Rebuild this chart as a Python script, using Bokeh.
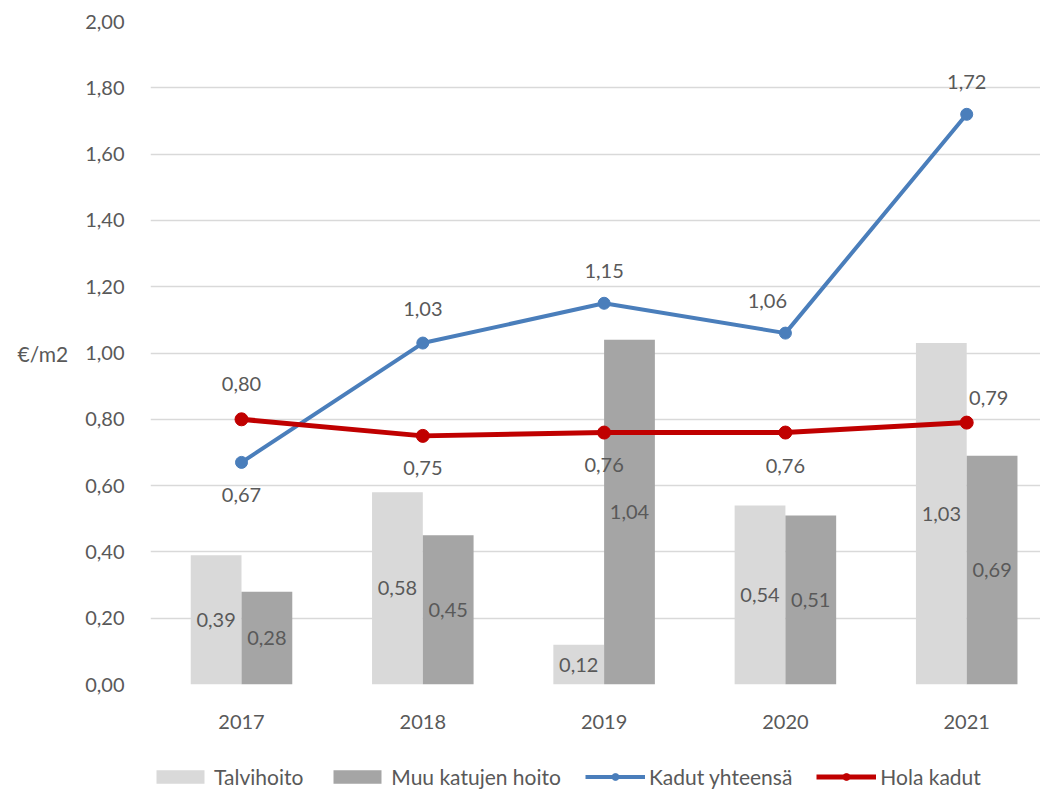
from bokeh.plotting import figure
from bokeh.layouts import column
from bokeh.models import ColumnDataSource, Legend, LegendItem, FixedTicker, Range1d, LabelSet
from bokeh.core.properties import value
from bokeh.embed import file_html
from bokeh.resources import INLINE

years = ["2017", "2018", "2019", "2020", "2021"]
talvihoito = [0.39, 0.58, 0.12, 0.54, 1.03]
muu_hoito = [0.28, 0.45, 1.04, 0.51, 0.69]
kadut_yhteensa = [0.67, 1.03, 1.15, 1.06, 1.72]
hola_kadut = [0.80, 0.75, 0.76, 0.76, 0.79]
y_ticks = [0.0, 0.2, 0.4, 0.6, 0.8, 1.0, 1.2, 1.4, 1.6, 1.8, 2.0]
y_tick_labels = ["0,00", "0,20", "0,40", "0,60", "0,80", "1,00", "1,20", "1,40", "1,60", "1,80", "2,00"]
series_names = ["Talvihoito", "Muu katujen hoito", "Kadut yhteensä", "Hola kadut"]
y_label = "€/m2"

FONT = "Lato"
TXT = "#595959"
C_LIGHT = "#d9d9d9"
C_DARK = "#a5a5a5"
C_BLUE = "#4a7ebb"
C_RED = "#c00000"

def fmt(v):
    return f"{v:.2f}".replace(".", ",")

idx = list(range(len(years)))
bw = 0.28

src = ColumnDataSource(dict(
    x=idx,
    xl=[i - bw / 2 for i in idx],
    xd=[i + bw / 2 for i in idx],
    talvi=talvihoito, talvi_mid=[v / 2 for v in talvihoito], talvi_t=[fmt(v) for v in talvihoito],
    muu=muu_hoito, muu_mid=[v / 2 for v in muu_hoito], muu_t=[fmt(v) for v in muu_hoito],
    blue=kadut_yhteensa, blue_t=[fmt(v) for v in kadut_yhteensa],
    red=hola_kadut, red_t=[fmt(v) for v in hola_kadut],
    # label offsets (styling, screen px; positive = up)
    blue_dx=[0, 0, 0, -18, 0], blue_dy=[-33, 34, 32, 32, 32],
    red_dx=[0, 0, 0, 0, 22], red_dy=[35, -32, -32, -33, 25],
))

p = figure(width=1040, height=737, output_backend="svg", toolbar_location=None,
           x_range=Range1d(-0.502, 4.407), y_range=Range1d(0, 2.0),
           min_border_left=150, min_border_right=0, min_border_top=21, min_border_bottom=53)
p.outline_line_color = None
p.background_fill_color = "white"
p.border_fill_color = "white"

def draw_series(fig, marker_size=12):
    r1 = fig.vbar(x="xl", top="talvi", width=bw, source=src, fill_color=C_LIGHT, line_color=None)
    r2 = fig.vbar(x="xd", top="muu", width=bw, source=src, fill_color=C_DARK, line_color=None)
    r3l = fig.line("x", "blue", source=src, line_color=C_BLUE, line_width=4)
    r3m = fig.scatter("x", "blue", source=src, size=marker_size, fill_color=C_BLUE, line_color=C_BLUE)
    r4l = fig.line("x", "red", source=src, line_color=C_RED, line_width=5)
    r4m = fig.scatter("x", "red", source=src, size=marker_size + 1, fill_color=C_RED, line_color=C_RED)
    return r1, r2, r3l, r3m, r4l, r4m

draw_series(p)

common = dict(text_font=value(FONT), text_font_size="20px", text_color=TXT,
              text_align="center", text_baseline="middle")
p.add_layout(LabelSet(x="xl", y="talvi_mid", text="talvi_t", source=src, **common))
p.add_layout(LabelSet(x="xd", y="muu_mid", text="muu_t", source=src, **common))
p.add_layout(LabelSet(x="x", y="blue", text="blue_t", x_offset="blue_dx", y_offset="blue_dy", source=src, **common))
p.add_layout(LabelSet(x="x", y="red", text="red_t", x_offset="red_dx", y_offset="red_dy", source=src, **common))

# axes
p.xaxis.ticker = FixedTicker(ticks=idx)
p.xaxis.major_label_overrides = {i: y for i, y in zip(idx, years)}
p.xaxis.axis_line_color = None
p.xaxis.major_tick_line_color = None
p.xaxis.minor_tick_line_color = None
p.xaxis.major_label_standoff = 24
p.xaxis.major_label_text_font = FONT
p.xaxis.major_label_text_font_size = "20px"
p.xaxis.major_label_text_color = TXT

p.yaxis.ticker = FixedTicker(ticks=y_ticks)
p.yaxis.major_label_overrides = {t: l for t, l in zip(y_ticks, y_tick_labels)}
p.yaxis.axis_line_color = None
p.yaxis.major_tick_line_color = None
p.yaxis.minor_tick_line_color = None
p.yaxis.major_label_standoff = 20
p.yaxis.major_label_text_font = FONT
p.yaxis.major_label_text_font_size = "20px"
p.yaxis.major_label_text_color = TXT
p.yaxis.axis_label = y_label
p.yaxis.axis_label_orientation = "horizontal"
p.yaxis.axis_label_standoff = 14
p.yaxis.axis_label_text_font = FONT
p.yaxis.axis_label_text_font_size = "21px"
p.yaxis.axis_label_text_font_style = "normal"
p.yaxis.axis_label_text_color = TXT

p.xgrid.grid_line_color = None
p.ygrid.grid_line_color = "#d9d9d9"
p.ygrid.grid_line_width = 1.5

# legend strip below the chart (its ranges keep the series out of view; only the legend shows)
lf = figure(width=1040, height=52, output_backend="svg", toolbar_location=None,
            x_range=Range1d(-0.5, 4.5), y_range=Range1d(10, 11),
            x_axis_type=None, y_axis_type=None,
            min_border_left=0, min_border_right=0, min_border_top=0, min_border_bottom=0)
lf.outline_line_color = None
lf.xgrid.visible = False
lf.ygrid.visible = False
g1, g2, g3l, g3m, g4l, g4m = draw_series(lf, marker_size=11)

legend = Legend(items=[
    LegendItem(label=series_names[0], renderers=[g1]),
    LegendItem(label=series_names[1], renderers=[g2]),
    LegendItem(label=series_names[2], renderers=[g3l, g3m]),
    LegendItem(label=series_names[3], renderers=[g4l, g4m]),
], orientation="horizontal", location=(0, 0))
legend.border_line_color = None
legend.background_fill_alpha = 0
legend.padding = 0
legend.margin = 0
legend.spacing = 24
legend.glyph_width = 60
legend.glyph_height = 17
legend.label_standoff = 4
legend.label_text_font = FONT
legend.label_text_font_size = "21px"
legend.label_text_color = TXT
lf.add_layout(legend, "center")

layout = column(p, lf, spacing=0)
open("out.html", "w").write(file_html(layout, INLINE))
